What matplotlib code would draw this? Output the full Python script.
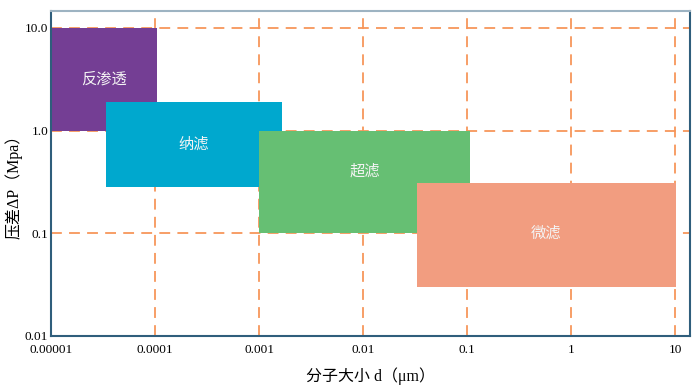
import matplotlib.pyplot as plt
from matplotlib.patches import Rectangle

plt.rcParams['font.family'] = ['Liberation Serif', 'Noto Sans CJK SC']

# membrane processes: size range (um) and pressure range (MPa)
names = ['反渗透', '纳滤', '超滤', '微滤']
x_low = [1e-5, 3.4e-5, 1e-3, 0.033]
x_high = [1.05e-4, 1.65e-3, 0.107, 10.2]
y_low = [1.0, 0.28, 0.1, 0.03]
y_high = [10.0, 1.9, 1.0, 0.31]
label_y = [3.2, 0.73, 0.4, 0.1]
colors = ['#743E94', '#00A8CE', '#66BF73', '#F29D80']

x_ticks = [1e-5, 1e-4, 1e-3, 1e-2, 1e-1, 1, 10]
x_tick_labels = ['0.00001', '0.0001', '0.001', '0.01', '0.1', '1', '10']
y_ticks = [0.01, 0.1, 1, 10]
y_tick_labels = ['0.01', '0.1', '1.0', '10.0']

fig = plt.figure(figsize=(7, 3.91), dpi=100)
ax = fig.add_axes([0.073, 0.141, 0.913, 0.831])
ax.set_xscale('log')
ax.set_yscale('log')
ax.set_xlim(1e-5, 14)
ax.set_ylim(0.01, 14.6)

for i in range(len(names)):
    ax.add_patch(Rectangle((x_low[i], y_low[i]), x_high[i] - x_low[i], y_high[i] - y_low[i],
                           facecolor=colors[i], edgecolor='none', zorder=2))
    xc = (x_low[i] * x_high[i]) ** 0.5
    ax.text(xc, label_y[i], names[i], ha='center', va='center', color='#F4F4F4',
            fontsize=11, family=['Noto Sans CJK SC'], zorder=3)

ax.set_xticks(x_ticks)
ax.set_xticklabels(x_tick_labels)
ax.set_yticks(y_ticks)
ax.set_yticklabels(y_tick_labels)
ax.minorticks_off()
ax.tick_params(axis='x', length=0, labelsize=9.5, pad=6)
ax.tick_params(axis='y', length=0, labelsize=9.5, pad=2)

ax.grid(True, color='#F7965A', linestyle=(0, (6, 4)), linewidth=1.3, zorder=1)
ax.set_axisbelow(True)

for side in ['left', 'bottom', 'right']:
    ax.spines[side].set_color('#2F5E7C')
    ax.spines[side].set_linewidth(1.5)
ax.spines['top'].set_color('#9DB3C2')
ax.spines['top'].set_linewidth(1.5)

ax.set_xlabel('分子大小 d（μm）', fontsize=11.5, labelpad=8)
ax.set_ylabel('压差ΔP（Mpa）', fontsize=11.5)
ax.yaxis.set_label_coords(-0.045, 0.47)

fig.savefig('out.png', dpi=100)
